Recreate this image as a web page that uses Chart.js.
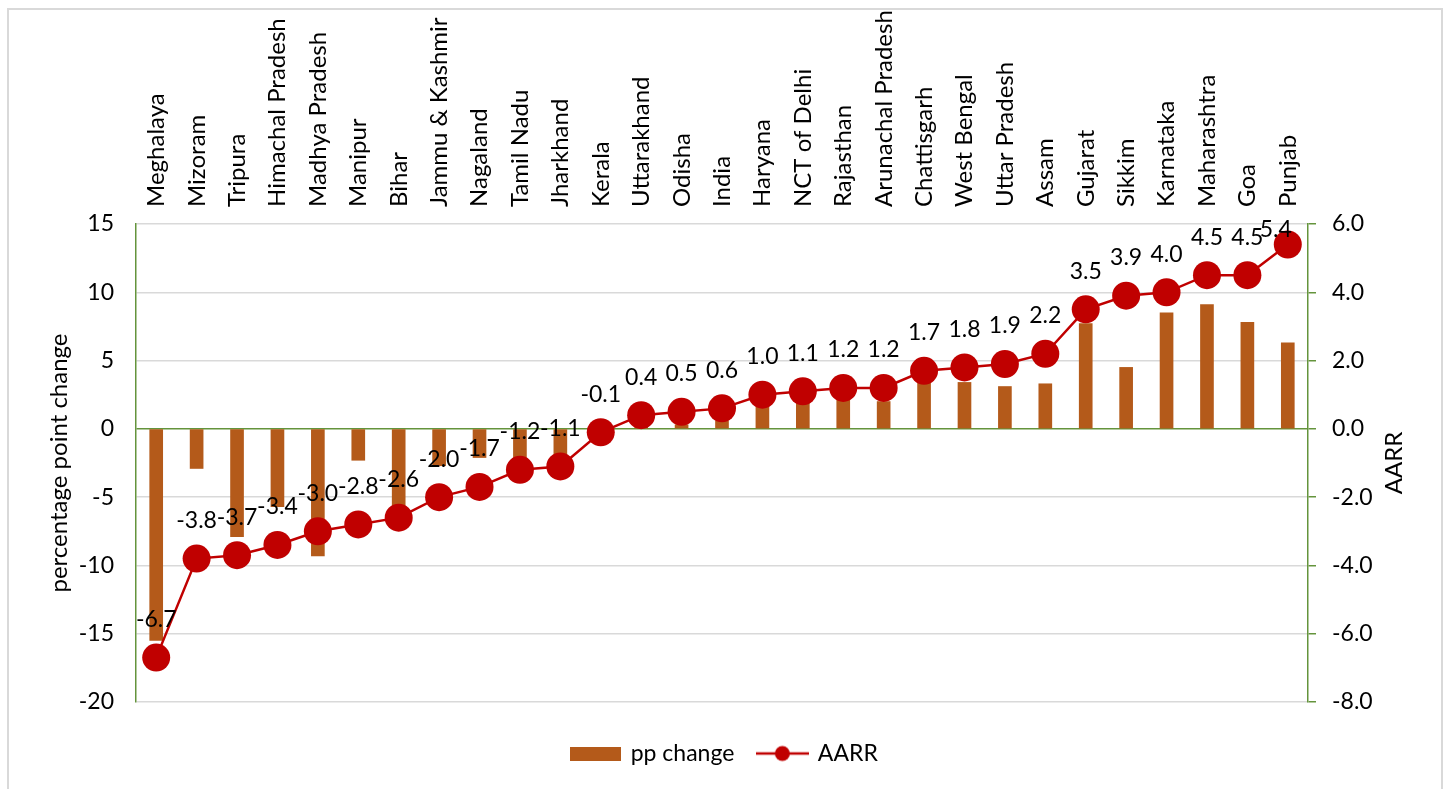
<!DOCTYPE html>
<html>
<head>
<meta charset="utf-8">
<script src="https://cdn.jsdelivr.net/npm/chart.js@4/dist/chart.umd.min.js"></script>
<style>
  html, body { margin: 0; padding: 0; background: #ffffff; }
  #wrap { position: relative; width: 1449px; height: 789px; }
</style>
</head>
<body>
<div id="wrap"><canvas id="aarrChart" width="1449" height="789"></canvas></div>
<script>
const states = ["Meghalaya", "Mizoram", "Tripura", "Himachal Pradesh", "Madhya Pradesh", "Manipur", "Bihar",
  "Jammu & Kashmir", "Nagaland", "Tamil Nadu", "Jharkhand", "Kerala", "Uttarakhand", "Odisha", "India",
  "Haryana", "NCT of Delhi", "Rajasthan", "Arunachal Pradesh", "Chattisgarh", "West Bengal", "Uttar Pradesh",
  "Assam", "Gujarat", "Sikkim", "Karnataka", "Maharashtra", "Goa", "Punjab"];
const ppChange = [-15.5, -2.9, -7.9, -5.7, -9.3, -2.3, -6.2, -2.7, -2.1, -2.6, -2.4, -0.5, 0.5, 0.3, 0.6,
  2.0, 2.0, 2.3, 2.0, 3.6, 3.4, 3.1, 3.3, 7.7, 4.5, 8.5, 9.1, 7.8, 6.3];
const aarr = [-6.7, -3.8, -3.7, -3.4, -3.0, -2.8, -2.6, -2.0, -1.7, -1.2, -1.1, -0.1, 0.4, 0.5, 0.6,
  1.0, 1.1, 1.2, 1.2, 1.7, 1.8, 1.9, 2.2, 3.5, 3.9, 4.0, 4.5, 4.5, 5.4];
const leftTicks = { min: -20, max: 15, step: 5 };
const rightTicks = { min: -8, max: 6, step: 2 };

const BAR_COLOR = "#b45a1a";
const LINE_COLOR = "#c00000";
const AXIS_GREEN = "#64943c";
const GRID_GREY = "#d9d9d9";
const FONT = "Lato";

// legend swatches
function barSwatch() {
  const c = document.createElement("canvas");
  c.width = 51; c.height = 14;
  const g = c.getContext("2d");
  g.fillStyle = BAR_COLOR;
  g.fillRect(0, 0, 51, 14);
  return c;
}
function lineSwatch() {
  const c = document.createElement("canvas");
  c.width = 53; c.height = 18;
  const g = c.getContext("2d");
  g.strokeStyle = LINE_COLOR;
  g.lineWidth = 2.5;
  g.beginPath(); g.moveTo(0, 9); g.lineTo(53, 9); g.stroke();
  g.fillStyle = LINE_COLOR;
  g.beginPath(); g.arc(26.5, 9, 7.5, 0, Math.PI * 2); g.fill();
  return c;
}

const extras = {
  id: "extras",
  beforeDraw(chart) {
    const ctx = chart.ctx;
    ctx.save();
    ctx.strokeStyle = GRID_GREY;
    ctx.lineWidth = 2;
    ctx.strokeRect(8, 9, 1434, 800);
    ctx.restore();
  },
  afterDatasetsDraw(chart) {
    const ctx = chart.ctx;
    const meta = chart.getDatasetMeta(1);
    const top = chart.chartArea.top;
    ctx.save();
    ctx.font = "23px " + FONT;
    ctx.fillStyle = "#000000";
    ctx.textAlign = "center";
    ctx.textBaseline = "middle";
    meta.data.forEach(function (pt, i) {
      let x = pt.x;
      let y = pt.y - 38;
      // keep the label inside the plot area, like the original
      if (y < top + 6) { y = top + 6; x -= 12; }
      ctx.fillText(aarr[i].toFixed(1), x, y);
    });
    ctx.restore();
  },
  afterDraw(chart) {
    const ctx = chart.ctx;
    const area = chart.chartArea;
    ctx.save();
    ctx.translate(1394, (area.top + area.bottom) / 2);
    ctx.rotate(-Math.PI / 2);
    ctx.font = "24px " + FONT;
    ctx.fillStyle = "#000000";
    ctx.textAlign = "center";
    ctx.textBaseline = "middle";
    ctx.fillText("AARR", 0, 0);
    ctx.restore();
  },
};

const ctx = document.getElementById("aarrChart").getContext("2d");
new Chart(ctx, {
  data: {
    labels: states,
    datasets: [
      {
        type: "bar",
        label: "pp change",
        data: ppChange,
        yAxisID: "y",
        backgroundColor: BAR_COLOR,
        barThickness: 13,
        order: 2,
      },
      {
        type: "line",
        label: "AARR",
        data: aarr,
        yAxisID: "y1",
        borderColor: LINE_COLOR,
        backgroundColor: LINE_COLOR,
        borderWidth: 2.5,
        tension: 0,
        pointRadius: 14,
        pointHoverRadius: 14,
        pointBorderWidth: 0,
        pointBackgroundColor: LINE_COLOR,
        order: 1,
      },
    ],
  },
  options: {
    responsive: false,
    animation: false,
    devicePixelRatio: 1,
    layout: { padding: { top: 0, left: 0, right: 0, bottom: 14 } },
    plugins: {
      tooltip: { enabled: false },
      legend: {
        position: "bottom",
        labels: {
          usePointStyle: true,
          pointStyleWidth: 48,
          padding: 24,
          color: "#000000",
          font: { family: FONT, size: 23 },
          generateLabels: function () {
            return [
              { text: "pp change", pointStyle: barSwatch(), datasetIndex: 0, lineWidth: 0, fontColor: "#000000" },
              { text: "AARR", pointStyle: lineSwatch(), datasetIndex: 1, lineWidth: 0, fontColor: "#000000" },
            ];
          },
        },
      },
    },
    scales: {
      x: {
        position: "top",
        grid: { display: false, drawTicks: false },
        border: { display: false },
        ticks: {
          autoSkip: false,
          minRotation: 90,
          maxRotation: 90,
          padding: 17,
          labelOffset: 29,
          color: "#000000",
          font: { family: FONT, size: 24 },
        },
        afterFit: function (scale) { scale.height = 224; },
      },
      xb: {
        type: "category",
        position: "bottom",
        grid: { display: false, drawTicks: false },
        border: { display: false },
        ticks: { display: false },
        afterFit: function (scale) { scale.height = 16; },
      },
      y: {
        position: "left",
        min: leftTicks.min,
        max: leftTicks.max,
        ticks: {
          stepSize: leftTicks.step,
          padding: 22,
          color: "#000000",
          font: { family: FONT, size: 23 },
        },
        grid: {
          drawTicks: false,
          lineWidth: 1.5,
          color: function (c) { return c.tick && c.tick.value === 0 ? AXIS_GREEN : GRID_GREY; },
        },
        border: { display: true, color: AXIS_GREEN, width: 1.5 },
        title: {
          display: true,
          text: "percentage point change",
          color: "#000000",
          font: { family: FONT, size: 24 },
          padding: { top: 45, bottom: 0 },
        },
        afterFit: function (scale) { scale.width = 136; },
      },
      y1: {
        position: "right",
        min: rightTicks.min,
        max: rightTicks.max,
        ticks: {
          stepSize: rightTicks.step,
          padding: 16,
          color: "#000000",
          font: { family: FONT, size: 23 },
          callback: function (v) { return Number(v).toFixed(1); },
        },
        grid: {
          display: true,
          drawOnChartArea: false,
          drawTicks: true,
          tickLength: 8,
          lineWidth: 1.5,
          color: AXIS_GREEN,
        },
        border: { display: true, color: AXIS_GREEN, width: 1.5 },
        afterFit: function (scale) { scale.width = 141; },
      },
    },
  },
  plugins: [extras],
});
</script>
</body>
</html>
